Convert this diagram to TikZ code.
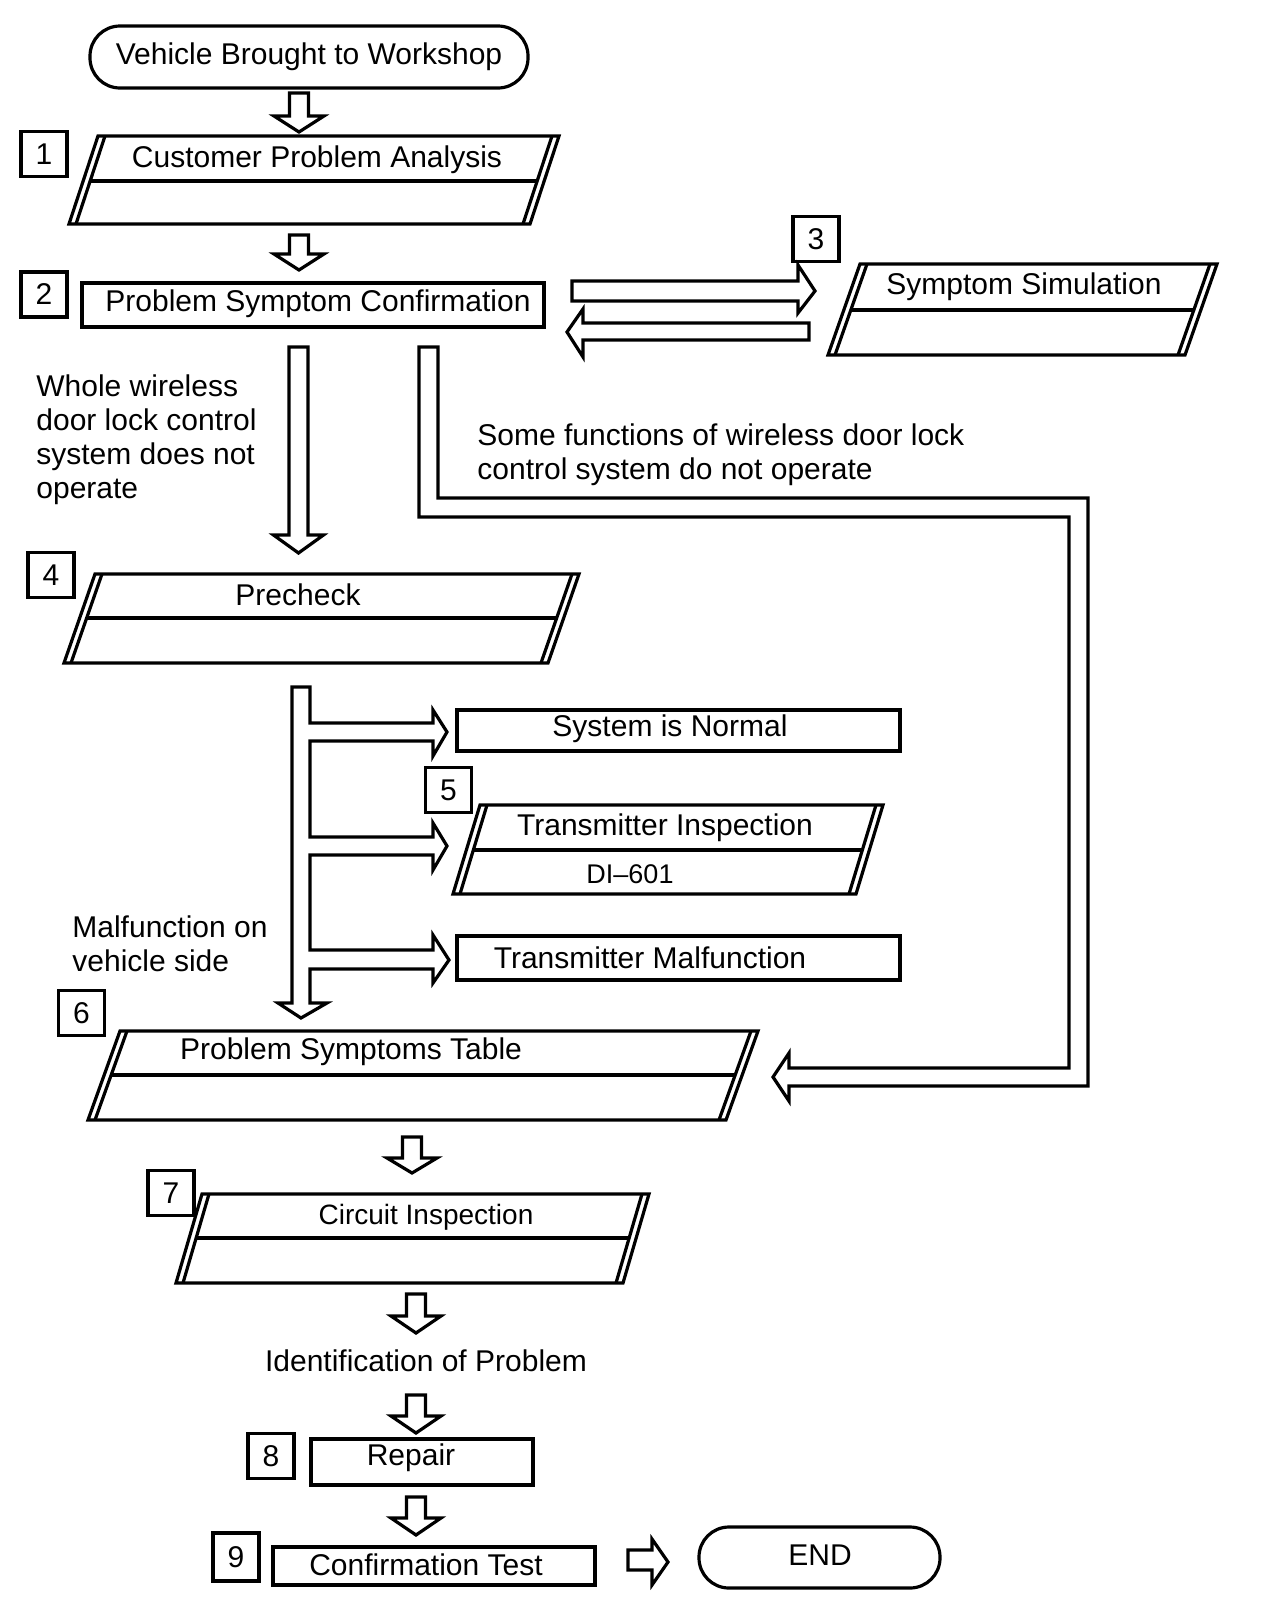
\documentclass[tikz,border=0pt]{standalone}
\usepackage{fontspec}
\setmainfont{Liberation Sans}
\usetikzlibrary{calc}
\newcommand\blkdown[4]{\draw[ln,fill=white] ({#1-9.5},#2) -- ({#1+9.5},#2) -- ({#1+9.5},#3) -- ({#1+25},#3) -- (#1,#4) -- ({#1-25},#3) -- ({#1-9.5},#3) -- cycle;}
% #1 TLx #2 TRx #3 top #4 bottom #5 slant #6 mid
\newcommand\plgram[6]{%
  \draw[ln] (#1,#3) -- (#2,#3) -- ({#2-#5},#4) -- ({#1-#5},#4) -- cycle;
  \draw[ln] ({#1+7},#3) -- ({#1+7-#5},#4);
  \draw[ln] ({#2-7},#3) -- ({#2-7-#5},#4);
  \draw[ln] ({#1+7-#5*(#6-#3)/(#4-#3)},#6) -- ({#2-7-#5*(#6-#3)/(#4-#3)},#6);}
\begin{document}
\begin{tikzpicture}[x=0.5pt,y=-0.5pt,
  ln/.style={line width=1.6pt, line join=miter},
  txt/.style={inner sep=0pt, font=\fontsize{15}{17}\selectfont},
  numbox/.style={draw, line width=1.6pt, minimum width=23pt, minimum height=22.5pt, inner sep=0pt, font=\fontsize{15}{17}\selectfont},
  rbox/.style={draw, line width=1.6pt, inner sep=0pt}]
\useasboundingbox (0,0) rectangle (1264,1612);

% start pill
\node[rbox, rounded corners=15pt, minimum width=219pt, minimum height=31pt, txt] (start) at (309,57) {Vehicle Brought to Workshop};
\blkdown{299}{93}{116}{132}

% step 1
\node[numbox] (n1) at (44,154) {1};
\plgram{98}{559}{136}{224}{29}{181}
\node[txt] (cpa) at (317,160) {Customer Problem Analysis};
\blkdown{299}{235}{254}{270}

% step 2
\node[numbox] (n2) at (44,294.5) {2};
\node[rbox, minimum width=231pt, minimum height=22pt] (psc) at (313,305) {};
\node[txt] (psct) at (318,304) {Problem Symptom Confirmation};

% arrows to/from symptom simulation
\draw[ln,fill=white] (572,281) -- (798,281) -- (798,265) -- (815,291) -- (798,313) -- (798,301) -- (572,301) -- cycle;
\draw[ln,fill=white] (809,323) -- (583,323) -- (583,309) -- (567,332) -- (583,357) -- (583,340) -- (809,340) -- cycle;

% step 3
\node[numbox] (n3) at (816,239) {3};
\plgram{860}{1217}{264}{355}{32}{310}
\node[txt] (sst) at (1024,287) {Symptom Simulation};

% PSC -> Precheck
\blkdown{298.5}{347}{535}{553}
\node[txt, anchor=west, align=left] (whole) at (36,440) {Whole wireless\\door lock control\\system does not\\operate};

% loop to Problem Symptoms Table
\draw[ln,fill=white] (419,347) -- (438,347) -- (438,498) -- (1088,498) -- (1088,1086) -- (789,1086) -- (789,1101) -- (773,1077) -- (789,1053) -- (789,1068) -- (1069,1068) -- (1069,517) -- (419,517) -- cycle;
\node[txt, anchor=west, align=left] (some) at (477,455) {Some functions of wireless door lock\\control system do not operate};

% step 4
\node[numbox] (n4) at (51,575) {4};
\plgram{95}{579}{574}{663}{31}{618}
\node[txt] (pre) at (298,595) {Precheck};

% trunk with branches
\draw[ln,fill=white] (292,687) -- (310,687) -- (310,723) -- (433,723) -- (433,710) -- (447,732) -- (433,756) -- (433,741) -- (310,741)
  -- (310,837) -- (433,837) -- (433,823) -- (447,846) -- (433,870) -- (433,855) -- (310,855)
  -- (310,950) -- (433,950) -- (433,935) -- (449,960) -- (433,983) -- (433,969) -- (310,969)
  -- (310,1003) -- (327,1003) -- (301,1018) -- (278,1003) -- (292,1003) -- cycle;

\node[rbox, minimum width=221.5pt, minimum height=20.5pt] (norm) at (678.5,730.5) {};
\node[txt] (normt) at (670,729) {System is Normal};

\node[numbox] (n5) at (448.5,790) {5};
\plgram{480}{883}{805}{894}{27}{850}
\node[txt] (tit) at (665,828) {Transmitter Inspection};
\node[inner sep=0pt, font=\fontsize{13.5}{15}\selectfont] (di) at (630,874) {DI–601};

\node[rbox, minimum width=221.5pt, minimum height=22pt] (tm) at (678.5,958) {};
\node[txt] (tmt) at (650,958) {Transmitter Malfunction};

\node[txt, anchor=west, align=left] (malf) at (72,944) {Malfunction on\\vehicle side};

% step 6
\node[numbox] (n6) at (81.5,1013) {6};
\plgram{120}{758}{1031}{1120}{32}{1075}
\node[txt] (pstt) at (351,1052) {Problem Symptoms Table};
\blkdown{412}{1137}{1158}{1173}

% step 7
\node[numbox] (n7) at (171,1193) {7};
\plgram{202}{649}{1194}{1283}{26}{1238}
\node[inner sep=0pt, font=\fontsize{14}{16}\selectfont] (cit) at (426,1217) {Circuit Inspection};
\blkdown{416}{1294}{1316}{1333}

\node[txt] (ident) at (426,1361) {Identification of Problem};
\blkdown{416}{1395}{1416}{1433}

% step 8
\node[numbox] (n8) at (271,1456) {8};
\node[rbox, minimum width=111pt, minimum height=23pt] (rep) at (422,1462) {};
\node[txt] (rept) at (411,1458) {Repair};
\blkdown{416}{1497}{1518}{1535}

% step 9
\node[numbox, minimum height=24pt] (n9) at (236,1557) {9};
\node[rbox, minimum width=161pt, minimum height=19pt] (ct) at (434,1566) {};
\node[txt] (ctt) at (426,1565) {Confirmation Test};

\draw[ln,fill=white] (628,1550) -- (652,1550) -- (652,1539) -- (668,1562) -- (652,1585) -- (652,1570) -- (628,1570) -- cycle;
\node[rbox, rounded corners=15pt, minimum width=120.5pt, minimum height=30.5pt] (endp) at (819.5,1557.5) {};
\node[txt] (endt) at (820,1555) {END};
\end{tikzpicture}
\end{document}
